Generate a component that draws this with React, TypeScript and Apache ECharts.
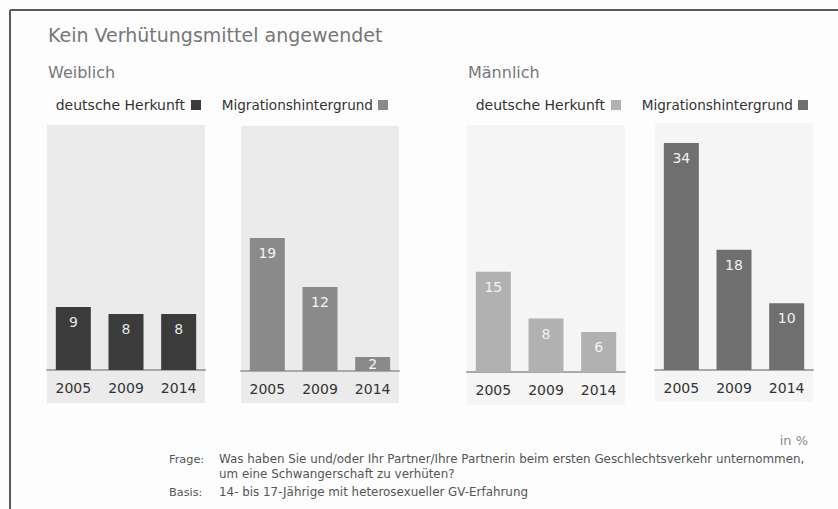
import React, { useEffect, useRef } from "react";
import * as echarts from "echarts";

const years = ["2005", "2009", "2014"];
const weiblichDeutsch = [9, 8, 8];
const weiblichMigration = [19, 12, 2];
const maennlichDeutsch = [15, 8, 6];
const maennlichMigration = [34, 18, 10];

const titleText = "Kein Verhütungsmittel angewendet";
const groupLabels = ["Weiblich", "Männlich"];
const seriesLabels = ["deutsche Herkunft", "Migrationshintergrund"];
const unitText = "in %";
const frageLabel = "Frage:";
const frageLines = [
  "Was haben Sie und/oder Ihr Partner/Ihre Partnerin beim ersten Geschlechtsverkehr unternommen,",
  "um eine Schwangerschaft zu verhüten?",
];
const basisLabel = "Basis:";
const basisText = "14- bis 17-Jährige mit heterosexueller GV-Erfahrung";

const FONT = "DejaVu Sans";

type Panel = {
  data: number[];
  color: string;
  labelColor: string;
  bg: string;
  left: number;
  top: number;
  height: number;
  bgTop: number;
  bgBottom: number;
  max: number;
};

const panels: Panel[] = [
  { data: weiblichDeutsch, color: "#3b3b3b", labelColor: "#e6e6e6", bg: "#ebebeb", left: 47, top: 125, height: 245, bgTop: 125, bgBottom: 403, max: 35 },
  { data: weiblichMigration, color: "#8a8a8a", labelColor: "#f4f4f4", bg: "#ebebeb", left: 241, top: 126, height: 245, bgTop: 126, bgBottom: 403, max: 35 },
  { data: maennlichDeutsch, color: "#b1b1b1", labelColor: "#f2f2f2", bg: "#f5f5f5", left: 467, top: 125, height: 247, bgTop: 125, bgBottom: 405, max: 37 },
  { data: maennlichMigration, color: "#6f6f6f", labelColor: "#f2f2f2", bg: "#f5f5f5", left: 655, top: 123, height: 247, bgTop: 123, bgBottom: 402, max: 37 },
];
const PW = 158;

export default function App() {
  const ref = useRef<HTMLDivElement>(null);
  useEffect(() => {
    if (!ref.current) return;
    const chart = echarts.init(ref.current, undefined, { renderer: "svg" });

    const graphics: any[] = [];
    graphics.push({ type: "line", shape: { x1: 10, y1: 10, x2: 838, y2: 10 }, style: { stroke: "#5a5a5a", lineWidth: 2 }, z: 10 });
    graphics.push({ type: "line", shape: { x1: 10, y1: 10, x2: 10, y2: 509 }, style: { stroke: "#5a5a5a", lineWidth: 2 }, z: 10 });
    panels.forEach((p) => {
      graphics.push({ type: "rect", shape: { x: p.left, y: p.bgTop, width: PW, height: p.bgBottom - p.bgTop }, style: { fill: p.bg }, z: -10 });
    });
    graphics.push({ type: "text", x: 48, y: 35, style: { text: titleText, font: `19px '${FONT}'`, fill: "#777", textVerticalAlign: "middle" } });
    graphics.push({ type: "text", x: 48, y: 72, style: { text: groupLabels[0], font: `16px '${FONT}'`, fill: "#777", textVerticalAlign: "middle" } });
    graphics.push({ type: "text", x: 468, y: 72, style: { text: groupLabels[1], font: `16px '${FONT}'`, fill: "#777", textVerticalAlign: "middle" } });
    const legendPos = [
      { end: 185, sq: 191, size: 14, color: panels[0].color, label: seriesLabels[0] },
      { end: 373, sq: 378, size: 13.6, color: panels[1].color, label: seriesLabels[1] },
      { end: 605, sq: 611, size: 14, color: panels[2].color, label: seriesLabels[0] },
      { end: 793, sq: 798, size: 13.6, color: panels[3].color, label: seriesLabels[1] },
    ];
    legendPos.forEach((l) => {
      graphics.push({ type: "text", x: l.end, y: 105, style: { text: l.label, font: `${l.size}px '${FONT}'`, fill: "#333", textAlign: "right", textVerticalAlign: "middle" } });
      graphics.push({ type: "rect", shape: { x: l.sq, y: 100, width: 10, height: 10 }, style: { fill: l.color } });
    });
    graphics.push({ type: "text", x: 808, y: 440, style: { text: unitText, font: `13px '${FONT}'`, fill: "#8a8a8a", textAlign: "right", textVerticalAlign: "middle" } });
    const ff = `11.9px '${FONT}'`;
    const fc = "#555";
    graphics.push({ type: "text", x: 169, y: 459, style: { text: frageLabel, font: `11.3px '${FONT}'`, fill: fc, textVerticalAlign: "middle" } });
    graphics.push({ type: "text", x: 219, y: 459, style: { text: frageLines[0], font: ff, fill: fc, textVerticalAlign: "middle" } });
    graphics.push({ type: "text", x: 219, y: 474, style: { text: frageLines[1], font: ff, fill: fc, textVerticalAlign: "middle" } });
    graphics.push({ type: "text", x: 169, y: 492, style: { text: basisLabel, font: `11.3px '${FONT}'`, fill: fc, textVerticalAlign: "middle" } });
    graphics.push({ type: "text", x: 219, y: 492, style: { text: basisText, font: ff, fill: fc, textVerticalAlign: "middle" } });

    const option: any = {
      animation: false,
      backgroundColor: "#fdfdfd",
      graphic: graphics,
      grid: panels.map((p) => ({ left: p.left, top: p.top, width: PW, height: p.height, containLabel: false })),
      xAxis: panels.map((p, i) => ({
        type: "category",
        gridIndex: i,
        data: years,
        axisLine: { show: true, lineStyle: { color: "#a8a8a8", width: 2 } },
        axisTick: { show: false },
        axisLabel: { color: "#333", fontFamily: FONT, fontSize: 14, margin: 11 },
      })),
      yAxis: panels.map((p, i) => ({
        type: "value",
        gridIndex: i,
        min: 0,
        max: p.max,
        show: false,
        splitLine: { show: false },
      })),
      series: panels.map((p, i) => ({
        type: "bar",
        xAxisIndex: i,
        yAxisIndex: i,
        data: p.data.map((v) => (v < 4 ? { value: v, label: { position: "inside" } } : v)),
        barWidth: 35,
        itemStyle: { color: p.color },
        label: {
          show: true,
          position: "insideTop",
          distance: 8,
          color: p.labelColor,
          fontFamily: FONT,
          fontSize: 14,
        },
      })),
    };
    chart.setOption(option);
    return () => chart.dispose();
  }, []);
  return <div ref={ref} style={{ position: "absolute", left: 0, top: 0, width: 838, height: 509 }} />;
}
